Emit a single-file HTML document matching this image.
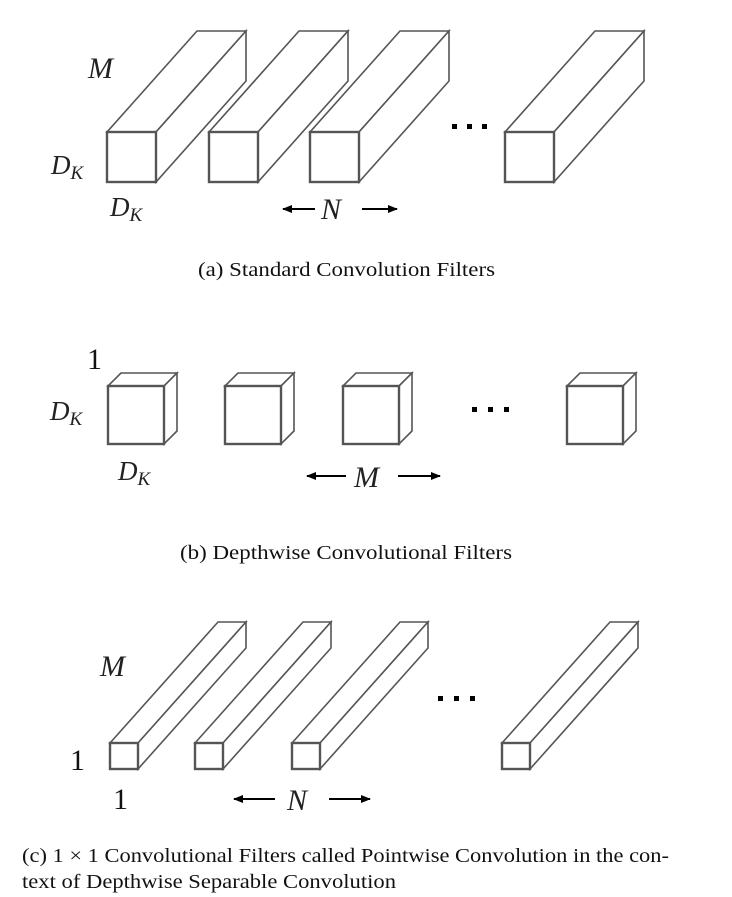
<!DOCTYPE html>
<html><head><meta charset="utf-8"><style>
html,body{margin:0;padding:0;background:#fff;width:732px;height:897px;overflow:hidden}
svg{display:block}
.s{fill:#fff;stroke:#555;stroke-width:1.6;stroke-linejoin:miter}
.f{fill:#fff;stroke:#555;stroke-width:2.4}
.t{font-family:"Liberation Serif",serif;fill:#111}
.i{font-family:"Liberation Serif",serif;font-style:italic;fill:#222}
.a{stroke:#000;stroke-width:2}
</style></head><body>
<svg width="732" height="897" viewBox="0 0 732 897" xmlns="http://www.w3.org/2000/svg">
<defs><marker id="ah" markerWidth="10" markerHeight="8" refX="9" refY="4" orient="auto" markerUnits="userSpaceOnUse"><path d="M0,0 L10,4 L0,8 Z" fill="#000"/></marker></defs>

<!-- (a) -->
<g>
<polygon class="s" points="107,132 197,31 246,31 156,132"/>
<polygon class="s" points="156,132 246,31 246,81 156,182"/>
<rect class="f" x="107" y="132" width="49" height="50"/>
<polygon class="s" points="209,132 299,31 348,31 258,132"/>
<polygon class="s" points="258,132 348,31 348,81 258,182"/>
<rect class="f" x="209" y="132" width="49" height="50"/>
<polygon class="s" points="310,132 400,31 449,31 359,132"/>
<polygon class="s" points="359,132 449,31 449,81 359,182"/>
<rect class="f" x="310" y="132" width="49" height="50"/>
<polygon class="s" points="505,132 595,31 644,31 554,132"/>
<polygon class="s" points="554,132 644,31 644,81 554,182"/>
<rect class="f" x="505" y="132" width="49" height="50"/>
<rect x="452" y="124" width="5" height="5" fill="#000"/><rect x="467" y="124" width="5" height="5" fill="#000"/><rect x="482" y="124" width="5" height="5" fill="#000"/>
<text class="i" x="88" y="78" font-size="30">M</text>
<text class="i" x="51" y="174" font-size="27">D<tspan font-size="19" dy="5">K</tspan></text>
<text class="i" x="110" y="216" font-size="27">D<tspan font-size="19" dy="5">K</tspan></text>
<line class="a" x1="315" y1="209" x2="283" y2="209" marker-end="url(#ah)"/>
<text class="i" x="321" y="219" font-size="30">N</text>
<line class="a" x1="362" y1="209" x2="397" y2="209" marker-end="url(#ah)"/>
<text class="t" x="198" y="276" font-size="20" textLength="297" lengthAdjust="spacingAndGlyphs">(a)  Standard Convolution Filters</text>
</g>

<!-- (b) -->
<g>
<polygon class="s" points="108,386 121,373 177,373 164,386"/>
<polygon class="s" points="164,386 177,373 177,431 164,444"/>
<rect class="f" x="108" y="386" width="56" height="58"/>
<polygon class="s" points="225,386 238,373 294,373 281,386"/>
<polygon class="s" points="281,386 294,373 294,431 281,444"/>
<rect class="f" x="225" y="386" width="56" height="58"/>
<polygon class="s" points="343,386 356,373 412,373 399,386"/>
<polygon class="s" points="399,386 412,373 412,431 399,444"/>
<rect class="f" x="343" y="386" width="56" height="58"/>
<polygon class="s" points="567,386 580,373 636,373 623,386"/>
<polygon class="s" points="623,386 636,373 636,431 623,444"/>
<rect class="f" x="567" y="386" width="56" height="58"/>
<rect x="472" y="407" width="5" height="5" fill="#000"/><rect x="488" y="407" width="5" height="5" fill="#000"/><rect x="504" y="407" width="5" height="5" fill="#000"/>
<text class="t" x="87" y="369" font-size="30">1</text>
<text class="i" x="50" y="420" font-size="27">D<tspan font-size="19" dy="5">K</tspan></text>
<text class="i" x="118" y="480" font-size="27">D<tspan font-size="19" dy="5">K</tspan></text>
<line class="a" x1="346" y1="476" x2="307" y2="476" marker-end="url(#ah)"/>
<text class="i" x="354" y="487" font-size="30">M</text>
<line class="a" x1="398" y1="476" x2="440" y2="476" marker-end="url(#ah)"/>
<text class="t" x="180" y="559" font-size="20" textLength="332" lengthAdjust="spacingAndGlyphs">(b)  Depthwise Convolutional Filters</text>
</g>

<!-- (c) -->
<g>
<polygon class="s" points="110,743 218,622 246,622 138,743"/>
<polygon class="s" points="138,743 246,622 246,648 138,769"/>
<rect class="f" x="110" y="743" width="28" height="26"/>
<polygon class="s" points="195,743 303,622 331,622 223,743"/>
<polygon class="s" points="223,743 331,622 331,648 223,769"/>
<rect class="f" x="195" y="743" width="28" height="26"/>
<polygon class="s" points="292,743 400,622 428,622 320,743"/>
<polygon class="s" points="320,743 428,622 428,648 320,769"/>
<rect class="f" x="292" y="743" width="28" height="26"/>
<polygon class="s" points="502,743 610,622 638,622 530,743"/>
<polygon class="s" points="530,743 638,622 638,648 530,769"/>
<rect class="f" x="502" y="743" width="28" height="26"/>
<rect x="438" y="696" width="5" height="5" fill="#000"/><rect x="454" y="696" width="5" height="5" fill="#000"/><rect x="470" y="696" width="5" height="5" fill="#000"/>
<text class="i" x="100" y="676" font-size="30">M</text>
<text class="t" x="70" y="770" font-size="30">1</text>
<text class="t" x="113" y="809" font-size="30">1</text>
<line class="a" x1="275" y1="799" x2="234" y2="799" marker-end="url(#ah)"/>
<text class="i" x="287" y="810" font-size="30">N</text>
<line class="a" x1="329" y1="799" x2="370" y2="799" marker-end="url(#ah)"/>
<text class="t" x="22" y="862" font-size="20" textLength="647" lengthAdjust="spacingAndGlyphs">(c)  1 × 1 Convolutional Filters called Pointwise Convolution in the con-</text>
<text class="t" x="22" y="888" font-size="20" textLength="374" lengthAdjust="spacingAndGlyphs">text of Depthwise Separable Convolution</text>
</g>
</svg>
</body></html>
